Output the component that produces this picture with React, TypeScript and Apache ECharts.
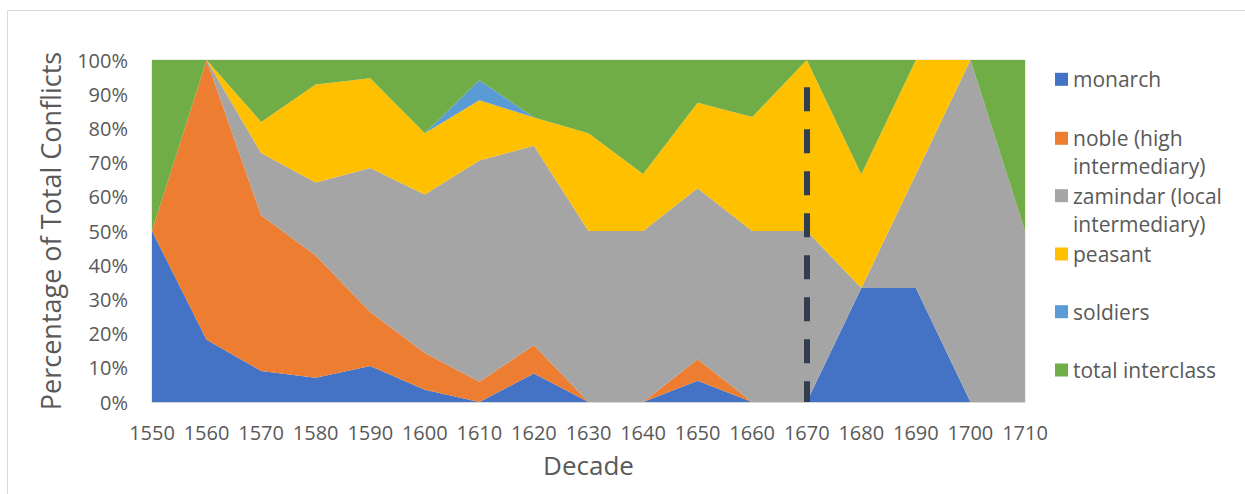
import React, { useEffect, useRef } from "react";
import * as echarts from "echarts";

const decades = ["1550", "1560", "1570", "1580", "1590", "1600", "1610", "1620", "1630", "1640", "1650", "1660", "1670", "1680", "1690", "1700", "1710"];
const monarch = [50, 18.2, 9.1, 7.1, 10.5, 3.6, 0, 8.3, 0, 0, 6.25, 0, 0, 33.3, 33.3, 0, 0];
const noble = [0, 81.8, 45.5, 35.7, 15.8, 10.7, 5.9, 8.3, 0, 0, 6.25, 0, 0, 0, 0, 0, 0];
const zamindar = [0, 0, 18.2, 21.4, 42.1, 46.4, 64.7, 58.3, 50, 50, 50, 50, 50, 0, 33.3, 100, 50];
const peasant = [0, 0, 9.1, 28.6, 26.3, 17.9, 17.6, 8.3, 28.6, 16.7, 25, 33.3, 50, 33.3, 33.4, 0, 0];
const soldiers = [0, 0, 0, 0, 0, 0, 5.9, 0, 0, 0, 0, 0, 0, 0, 0, 0, 0];
const totalInterclass = [50, 0, 18.1, 7.2, 5.3, 21.4, 5.9, 16.8, 21.4, 33.3, 12.5, 16.7, 0, 33.4, 0, 0, 50];

const seriesNames = ["monarch", "noble (high intermediary)", "zamindar (local intermediary)", "peasant", "soldiers", "total interclass"];
const legendLabels = ["monarch", "noble (high\nintermediary)", "zamindar (local\nintermediary)", "peasant", "soldiers", "total interclass"];
const seriesData = [monarch, noble, zamindar, peasant, soldiers, totalInterclass];
const colors = ["#4472C4", "#ED7D31", "#A5A5A5", "#FFC000", "#5B9BD5", "#70AD47"];
const yTickLabels = ["0%", "10%", "20%", "30%", "40%", "50%", "60%", "70%", "80%", "90%", "100%"];

const marker1670 = "1670";
const markerTop = 92;
const markerBottom = 0;

const FONT = "'Open Sans', sans-serif";
const TXT = "#595959";

export default function App() {
  const ref = useRef<HTMLDivElement>(null);
  useEffect(() => {
    document.body.style.margin = "0";
    const chart = echarts.init(ref.current!, null, { renderer: "svg" });
    const legendCenters = [79.3, 138.3, 195.7, 254, 311.7, 370];
    const legends = seriesNames.map((name, i) => {
      const twoLine = legendLabels[i].includes("\n");
      return {
        show: true,
        left: 1055,
        top: twoLine ? legendCenters[i] - 42 : legendCenters[i] - 14,
        padding: 0,
        orient: "vertical",
        icon: "rect",
        itemWidth: 13,
        itemHeight: 13,
        selectedMode: false,
        data: [name],
        formatter: () => (twoLine ? " \n" + legendLabels[i] : legendLabels[i]),
        textStyle: {
          fontFamily: FONT,
          fontSize: 21,
          color: TXT,
          lineHeight: 28,
        },
      };
    });
    chart.setOption({
      animation: false,
      color: colors,
      graphic: [
        {
          type: "rect",
          shape: { x: 7.5, y: 10.5, width: 1400, height: 600 },
          style: { fill: "none", stroke: "#d9d9d9", lineWidth: 1 },
          silent: true,
          z: -10,
        },
      ],
      legend: legends,
      grid: {
        left: 152,
        right: 220,
        top: 60,
        bottom: 92,
        show: true,
        borderColor: "#d9d9d9",
        borderWidth: 1,
      },
      xAxis: {
        type: "category",
        data: decades,
        boundaryGap: false,
        axisTick: { show: false },
        axisLine: { lineStyle: { color: "#d9d9d9" } },
        axisLabel: { fontFamily: FONT, fontSize: 20, color: TXT, margin: 20, interval: 0 },
        name: "Decade",
        nameLocation: "middle",
        nameGap: 50,
        nameTextStyle: { fontFamily: FONT, fontSize: 26, color: TXT },
      },
      yAxis: {
        type: "value",
        min: 0,
        max: 100,
        interval: 10,
        splitLine: { show: false },
        axisLine: { show: true, lineStyle: { color: "#d9d9d9" } },
        axisTick: { show: false },
        axisLabel: {
          fontFamily: FONT,
          fontSize: 20,
          color: TXT,
          margin: 24,
          formatter: (v: number) => yTickLabels[Math.round(v / 10)],
        },
        name: "Percentage of Total Conflicts",
        nameLocation: "middle",
        nameGap: 88,
        nameTextStyle: { fontFamily: FONT, fontSize: 27, color: TXT },
      },
      series: seriesNames.map((name, i) => ({
        name,
        type: "line",
        stack: "total",
        data: seriesData[i],
        symbol: "none",
        showSymbol: false,
        lineStyle: { width: 0 },
        areaStyle: { color: colors[i], opacity: 1 },
        itemStyle: { color: colors[i] },
        silent: true,
        markLine:
          i === 0
            ? {
                silent: true,
                symbol: "none",
                label: { show: false },
                lineStyle: { color: "#323E4F", width: 6, type: [24, 18], opacity: 1 },
                data: [[{ coord: [marker1670, markerTop] }, { coord: [marker1670, markerBottom] }]],
              }
            : undefined,
      })),
    });
    return () => chart.dispose();
  }, []);
  return <div ref={ref} style={{ width: 1245, height: 494 }} />;
}
